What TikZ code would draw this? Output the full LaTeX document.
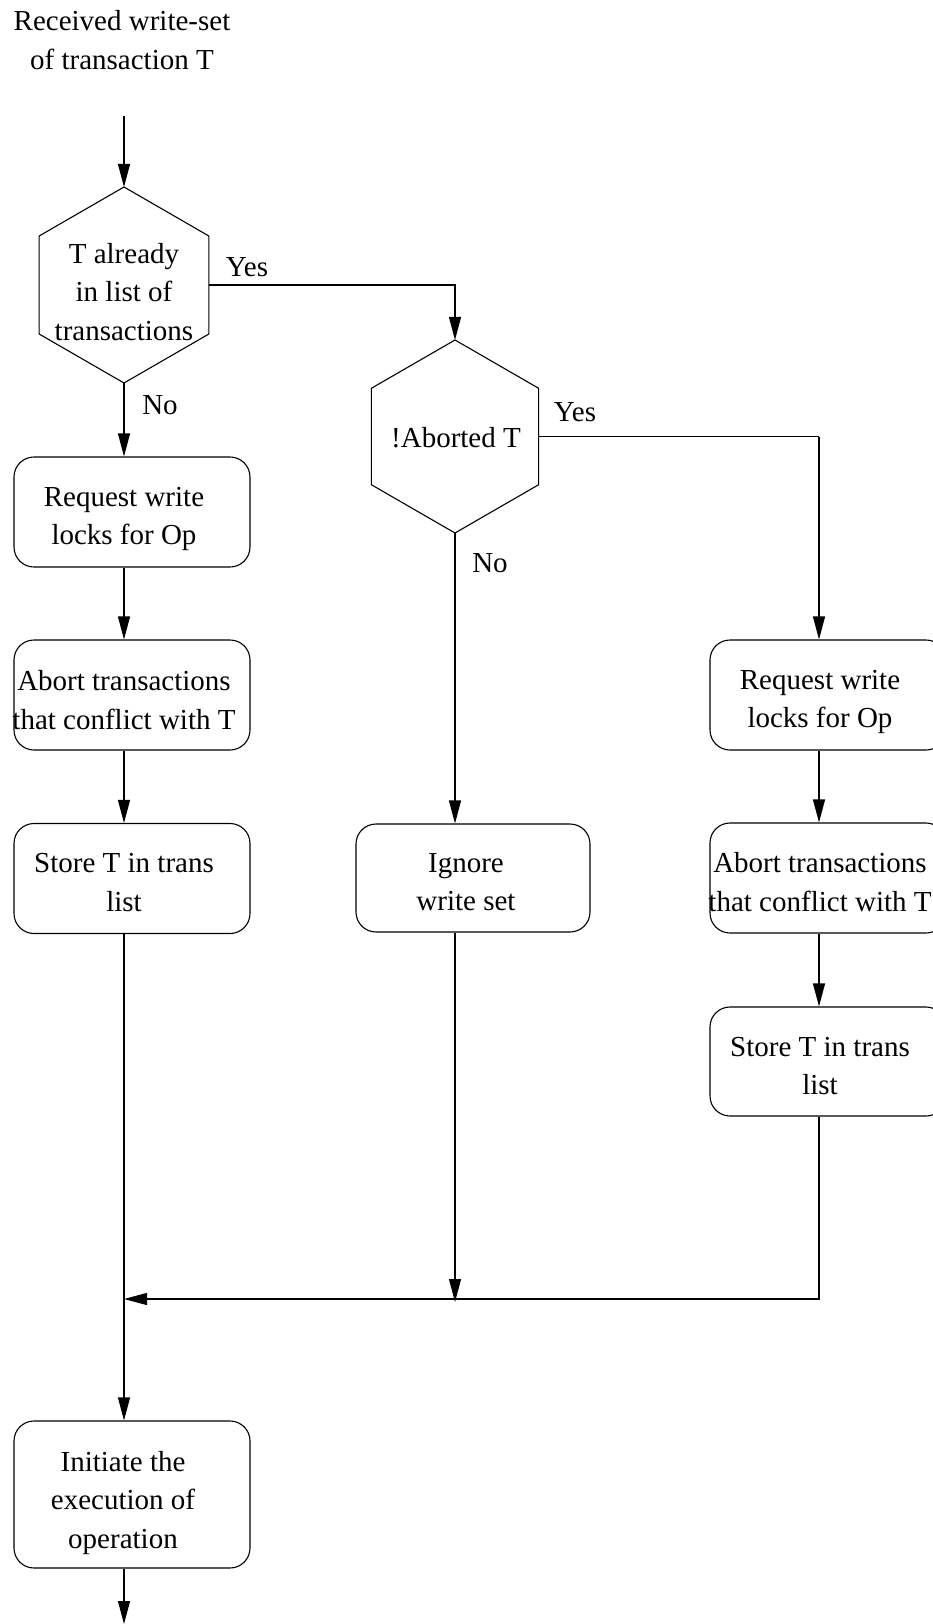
\documentclass[tikz,border=0pt]{standalone}
\usepackage{fontspec}
\setmainfont{Liberation Serif}
\usetikzlibrary{arrows.meta,shapes.geometric}

\tikzset{
  every node/.style={font=\fontsize{29}{38.5}\selectfont, inner sep=0pt},
  lbl/.style={align=center},
  procbox/.style={draw, line width=1.1pt, rounded corners=20pt, minimum width=236pt, minimum height=110pt},
  decision/.style={draw, line width=1.1pt, regular polygon, regular polygon sides=6,
                   shape border rotate=30, outer sep=0pt},
  flow/.style={line width=1.1pt},
  arr/.style={flow, -{Triangle[length=23pt,width=12pt]}},
}

\begin{document}
\begin{tikzpicture}[x=1pt, y=-1pt]
  \useasboundingbox (0,0) rectangle (933,1624);

  % entry text
  \node[lbl] (title) at (122,40) {Received write-set\\of transaction T};
  \coordinate (start) at (124,116);

  % first decision
  \node[decision, minimum size=196pt] (d1) at (124,285) {};
  \node[lbl] (d1t) at (124,292) {T already\\in list of\\transactions};

  % second decision
  \node[decision, minimum size=193pt] (d2) at (455,436.5) {};
  \node[lbl] (d2t) at (456,438) {!Aborted T};

  % left column
  \node[procbox] (b1) at (132,512) {};
  \node[lbl] (b1t) at (124,519) {Request write\\locks for Op};
  \node[procbox] (b2) at (132,695) {};
  \node[lbl] (b2t) at (124,700) {Abort transactions\\that conflict with T};
  \node[procbox] (b3) at (132,878.5) {};
  \node[lbl] (b3t) at (124,882.5) {Store T in trans\\list};
  \node[procbox, minimum height=147pt] (ex) at (132,1494.5) {};
  \node[lbl] (ext) at (123,1503) {Initiate the\\execution of\\operation};
  \coordinate (stop) at (124,1624);

  % middle column
  \node[procbox, minimum width=234pt, minimum height=108pt] (ig) at (473,878) {};
  \node[lbl] (igt) at (466,882) {Ignore\\write set};

  % right column
  \node[procbox] (r1) at (828,695) {};
  \node[lbl] (r1t) at (820,702) {Request write\\locks for Op};
  \node[procbox] (r2) at (828,878) {};
  \node[lbl] (r2t) at (820,882) {Abort transactions\\that conflict with T};
  \node[procbox, minimum height=109pt] (r3) at (828,1061.5) {};
  \node[lbl] (r3t) at (820,1066) {Store T in trans\\list};

  % junction of the branches
  \coordinate (join) at (124,1299);
  \coordinate (joinm) at (455,1299);
  \coordinate (joinr) at (819,1299);
  \coordinate (rcol) at (819,436.5);

  % connectors
  \draw[arr] (start) -- (d1.north);
  \draw[arr] (d1.east) -| (d2.north);
  \node (yes1) at (247,267) {Yes};
  \draw[arr] (d1.south) -- (d1.south |- b1.north);
  \node (no1) at (160,405) {No};
  \draw[arr] (b1.south -| b1t) -- (b1t |- b2.north);
  \draw[arr] (b2.south -| b2t) -- (b2t |- b3.north);
  \draw[arr] (b3.south -| b3t) -- (b3t |- ex.north);
  \draw[arr] (ex.south -| stop) -- (stop);

  \draw[arr] (d2.south) -- (d2.south |- ig.north);
  \node (no2) at (490,563) {No};
  \draw[arr] (ig.south -| joinm) -- ([yshift=-3pt]joinm);

  \draw[flow] (d2.east) -- (rcol);
  \draw[arr] (rcol) -- (rcol |- r1.north);
  \node (yes2) at (575,412) {Yes};
  \draw[arr] (r1.south -| rcol) -- (rcol |- r2.north);
  \draw[arr] (r2.south -| rcol) -- (rcol |- r3.north);
  \draw[arr] (r3.south -| rcol) -- (joinr) -- (join);
\end{tikzpicture}
\end{document}
